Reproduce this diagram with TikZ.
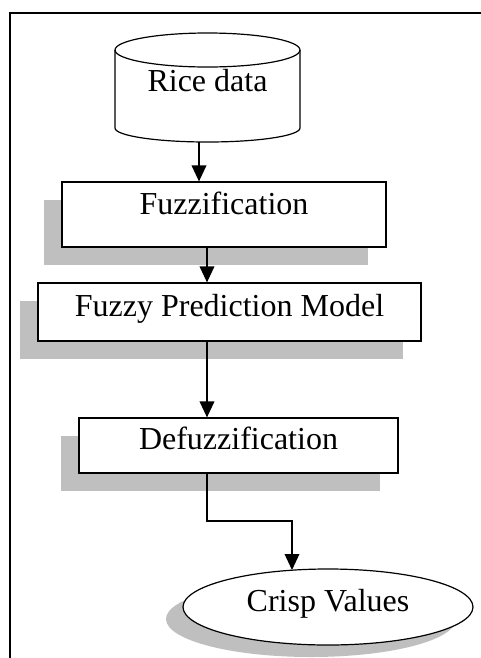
\documentclass[tikz,border=0pt]{standalone}
\usepackage{fontspec}
\setmainfont{Liberation Serif}
\usetikzlibrary{arrows.meta,shapes.geometric,shadows}
\definecolor{shadowgray}{HTML}{BFBFBF}
\begin{document}
\begin{tikzpicture}[x=0.75pt,y=-0.75pt,
  frame/.style={line width=1.1pt},
  txtstyle/.style={inner sep=0pt, font=\fontsize{24}{28}\selectfont, text height=0.66em, text depth=0pt},
  boxstyle/.style={txtstyle, draw, line width=0.9pt, fill=white, rectangle,
    drop shadow={shadow xshift=-13.5pt, shadow yshift=-13.5pt, opacity=1, fill=shadowgray}},
  ellstyle/.style={txtstyle, draw, line width=0.9pt, fill=white, ellipse,
    drop shadow={shadow xshift=-12.75pt, shadow yshift=-9pt, opacity=1, fill=shadowgray}},
  arr/.style={line width=1.1pt, -{Triangle[width=11pt,length=12pt]}}
]
\useasboundingbox (0,0) rectangle (481,658);
% frame
\draw[frame] (10,658) -- (10,13) -- (481,13);
% cylinder
\draw[line width=0.9pt, fill=white] (115,50) -- (115,128)
  arc[start angle=180, end angle=360, x radius=69.375pt, y radius=10.5pt] -- (300,50);
\draw[line width=0.9pt] (207.5,50) ellipse [x radius=69.375pt, y radius=12.75pt];
\node[txtstyle, minimum width=138.75pt, minimum height=81.75pt] (rice) at (207.5,87.5) {Rice data};
% boxes
\node[boxstyle, minimum width=243pt, minimum height=48.75pt] (fz) at (224,214.5) {};
\node[txtstyle] (fztxt) at (224,210) {Fuzzification};
\node[boxstyle, minimum width=287.25pt, minimum height=43.5pt] (fpm) at (229.5,312) {Fuzzy Prediction Model};
\node[boxstyle, minimum width=239.25pt, minimum height=41.25pt] (dz) at (238.5,445.5) {Defuzzification};
\node[ellstyle, minimum width=217.5pt, minimum height=57pt] (cv) at (328,607) {Crisp Values};
% connectors
\coordinate (c1) at (199,0);
\coordinate (c2) at (207,0);
\coordinate (k) at (207,521);
\coordinate (k2) at (292,570);
\draw[arr] (rice.south -| c1) -- (fz.north -| c1);
\draw[arr] (fz.south -| c2) -- (fpm.north -| c2);
\draw[arr] (fpm.south -| c2) -- (dz.north -| c2);
\draw[arr] (dz.south -| k) -- (k) -| (k2);
\end{tikzpicture}
\end{document}
